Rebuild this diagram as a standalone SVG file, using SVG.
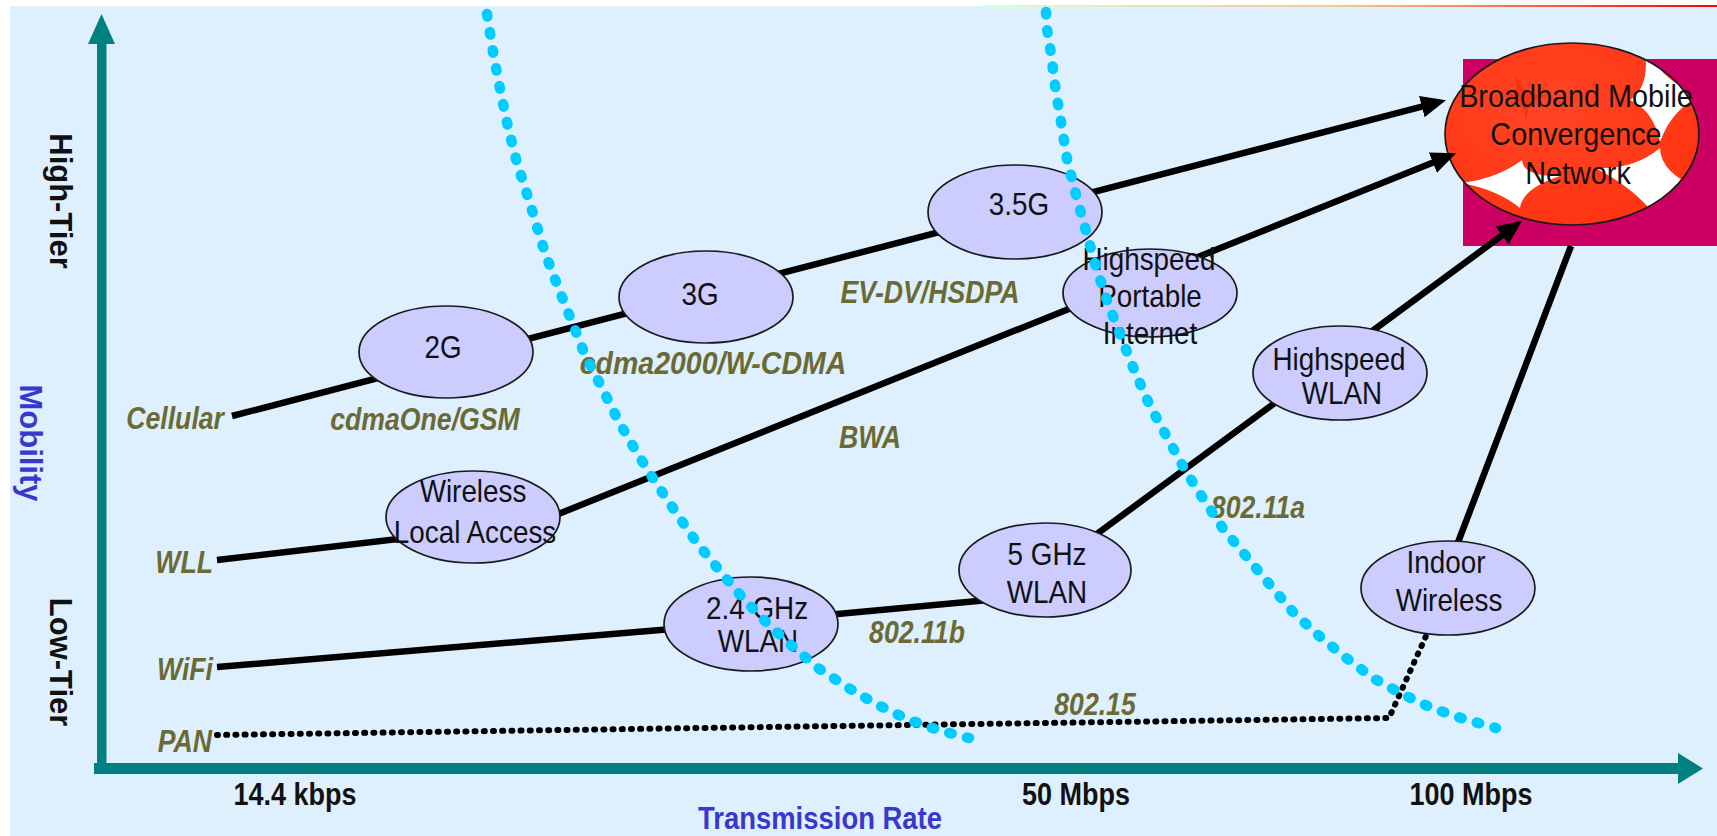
<svg xmlns="http://www.w3.org/2000/svg" width="1717" height="836" viewBox="0 0 1717 836">
<style>
.nd{fill:#ccccff;stroke:#1a1a1a;stroke-width:1.7}
.nt{font-family:"Liberation Sans",Arial,sans-serif;font-size:32px;fill:#111;text-anchor:middle}
.ax{font-family:"Liberation Sans",Arial,sans-serif;font-size:31px;font-weight:bold;fill:#111;text-anchor:middle}
.bl{fill:#3838cc}
.ol{font-family:"Liberation Sans",Arial,sans-serif;font-size:31px;font-weight:bold;font-style:italic;fill:#6b6a35}
.mid{text-anchor:middle}
.end{text-anchor:end}
.ln{fill:none;stroke:#000;stroke-width:6.5;stroke-linejoin:round}
.dot{fill:none;stroke:#000;stroke-width:6;stroke-dasharray:1 8.2;stroke-linecap:round}
.cy{fill:none;stroke:#00ccff;stroke-width:10.5;stroke-dasharray:2.5 15.8;stroke-linecap:round}
.axis{fill:#008080}
.wb{fill:#ffffff}
</style>
<defs>
<marker id="ah" markerUnits="userSpaceOnUse" markerWidth="26" markerHeight="22" refX="13" refY="11" orient="auto">
<path d="M0,0 L25,11 L0,22 Z" fill="#000"/>
</marker>
<linearGradient id="topg" x1="0" y1="0" x2="1" y2="0">
<stop offset="0" stop-color="#d8ffd8"/>
<stop offset="0.5" stop-color="#f2c690"/>
<stop offset="1" stop-color="#ff0000"/>
</linearGradient>
<radialGradient id="redg" cx="0.4" cy="0.35" r="0.7">
<stop offset="0" stop-color="#ff4424"/>
<stop offset="1" stop-color="#ff3412"/>
</radialGradient>
<clipPath id="bmclip"><ellipse cx="1572" cy="134" rx="127" ry="91"/></clipPath>
</defs>

<rect x="0" y="0" width="1717" height="836" fill="#ffffff"/>
<rect x="10" y="6" width="1707" height="830" fill="#def0fe"/>
<rect x="983" y="5" width="734" height="2" fill="url(#topg)"/>

<g id="axes">
<rect class="axis" x="97" y="40" width="9.5" height="734"/>
<path class="axis" d="M88,44 L101.5,14 L115,44 Z"/>
<rect class="axis" x="94" y="763" width="1586" height="11"/>
<path class="axis" d="M1678,753 L1703,768.5 L1678,784 Z"/>
<text class="ax" transform="translate(50,201) rotate(90)">High-Tier</text>
<text class="ax bl" transform="translate(20,443) rotate(90)">Mobility</text>
<text class="ax" transform="translate(50,662) rotate(90)">Low-Tier</text>
<text class="ax" transform="translate(295,805) scale(0.87,1)">14.4 kbps</text>
<text class="ax" transform="translate(1076,805) scale(0.87,1)">50 Mbps</text>
<text class="ax" transform="translate(1471,805) scale(0.87,1)">100 Mbps</text>
<text class="ax bl" transform="translate(820,829) scale(0.885,1)">Transmission Rate</text>
</g>

<g id="n-bmcn">
<rect x="1463" y="59" width="254" height="187" fill="#cc0062"/>
<ellipse cx="1572" cy="134" rx="127" ry="91" fill="url(#redg)"/>
<g clip-path="url(#bmclip)">
<path class="wb" d="M1462,183 Q1498.5,178 1522,160 Q1523,176.5 1560,176 Q1522.5,188.5 1520,208 Q1498,190 1462,183 Z"/>
<path class="wb" d="M1595,168 Q1633.75,170 1660,148 Q1661,175.5 1705,190 Q1660,192 1655,215 Q1632.5,186.75 1595,168 Z"/>
<path class="wb" d="M1645,50 Q1667.75,86.25 1702,95 Q1671.5,109 1660,142 Q1653.5,110.5 1630,100 Q1649.75,87.5 1645,50 Z"/>
<path d="M1512,72 Q1527,93 1527,93 Q1527,93 1550,96 Q1527,97 1526,122 Q1525,97 1502,95 Q1525,93 1512,72 Z" fill="#f42e10" opacity="0.8"/>
</g>
<ellipse cx="1572" cy="134" rx="127" ry="91" fill="none" stroke="#1a1a1a" stroke-width="1.7"/>
<text class="nt" transform="translate(1576,107) scale(0.9,1)">Broadband Mobile</text>
<text class="nt" transform="translate(1576,145) scale(0.9,1)">Convergence</text>
<text class="nt" transform="translate(1578,184) scale(0.9,1)">Network</text>
</g>

<g id="connectors">
<path class="ln" d="M232,416 L1434.4,103.3" marker-end="url(#ah)"/>
<path class="ln" d="M217,560 L536,523 L1444.9,157.8" marker-end="url(#ah)"/>
<path class="ln" d="M217,667 L720,625 L1010,598 L1512.5,227.7" marker-end="url(#ah)"/>
<path class="ln" d="M1457,545 L1571,246"/>
<path class="dot" d="M217,735 L1389,718 L1426,636"/>
</g>

<g id="n-2g"><ellipse class="nd" cx="446" cy="352" rx="87" ry="46"/><text class="nt" transform="translate(443,358) scale(0.87,1)">2G</text></g>
<g id="n-3g"><ellipse class="nd" cx="706" cy="297" rx="87" ry="46"/><text class="nt" transform="translate(700,305) scale(0.87,1)">3G</text></g>
<g id="n-35g"><ellipse class="nd" cx="1015" cy="212" rx="87" ry="47"/><text class="nt" transform="translate(1019,215) scale(0.87,1)">3.5G</text></g>
<g id="n-hpi"><ellipse class="nd" cx="1150" cy="293" rx="87" ry="44"/>
<text class="nt" transform="translate(1149,270) scale(0.87,1)">Highspeed</text>
<text class="nt" transform="translate(1150,307) scale(0.87,1)">Portable</text>
<text class="nt" transform="translate(1150,344) scale(0.87,1)">Internet</text></g>
<g id="n-wla"><ellipse class="nd" cx="473" cy="517" rx="87" ry="46"/>
<text class="nt" transform="translate(473,502) scale(0.87,1)">Wireless</text>
<text class="nt" transform="translate(475,543) scale(0.87,1)">Local Access</text></g>
<g id="n-24"><ellipse class="nd" cx="751" cy="624" rx="87" ry="47"/>
<text class="nt" transform="translate(757,619) scale(0.87,1)">2.4 GHz</text>
<text class="nt" transform="translate(758,652) scale(0.87,1)">WLAN</text></g>
<g id="n-5g"><ellipse class="nd" cx="1045" cy="570" rx="86" ry="47"/>
<text class="nt" transform="translate(1047,565) scale(0.87,1)">5 GHz</text>
<text class="nt" transform="translate(1047,603) scale(0.87,1)">WLAN</text></g>
<g id="n-hw"><ellipse class="nd" cx="1340" cy="373" rx="87" ry="47"/>
<text class="nt" transform="translate(1339,370) scale(0.87,1)">Highspeed</text>
<text class="nt" transform="translate(1342,404) scale(0.87,1)">WLAN</text></g>
<g id="n-iw"><ellipse class="nd" cx="1448" cy="588" rx="87" ry="47"/>
<text class="nt" transform="translate(1446,573) scale(0.87,1)">Indoor</text>
<text class="nt" transform="translate(1449,611) scale(0.87,1)">Wireless</text></g>

<g id="labels">
<text class="ol end" transform="translate(224,429) scale(0.86,1)">Cellular</text>
<text class="ol end" transform="translate(213,573) scale(0.86,1)">WLL</text>
<text class="ol end" transform="translate(213,680) scale(0.86,1)">WiFi</text>
<text class="ol end" transform="translate(212,752) scale(0.86,1)">PAN</text>
<text class="ol mid" transform="translate(425,430) scale(0.86,1)">cdmaOne/GSM</text>
<text class="ol mid" transform="translate(713,374) scale(0.92,1)">cdma2000/W-CDMA</text>
<text class="ol mid" transform="translate(930,303) scale(0.86,1)">EV-DV/HSDPA</text>
<text class="ol mid" transform="translate(870,448) scale(0.86,1)">BWA</text>
<text class="ol mid" transform="translate(1258,518) scale(0.86,1)">802.11a</text>
<text class="ol mid" transform="translate(917,643) scale(0.86,1)">802.11b</text>
<text class="ol mid" transform="translate(1095,715) scale(0.86,1)">802.15</text>
</g>

<g id="curves">
<path class="cy" d="M487,14 L493,52 L500,89 L508,127 L517,163 L528,197 L545,253 L558,287 L572,322 L585,355 L602,388 L619,422 L637,453 L656,483 L677,514 L697,543 L719,570 L742,597 L767,623 L792,646 L818,668 L847,687 L876,704 L907,719 L938,730 L969,738"/>
<path class="cy" d="M1046,12 L1047,29 L1050,47 L1055,85 L1061,122 L1067,159 L1076,195 L1086,231 L1096,267 L1108,303 L1121,337 L1135,372 L1150,406 L1167,437 L1185,470 L1204,500 L1224,530 L1246,556 L1270,585 L1293,612 L1318,635 L1345,657 L1373,678 L1402,694 L1432,708 L1464,719 L1496,728"/>
</g>
</svg>
